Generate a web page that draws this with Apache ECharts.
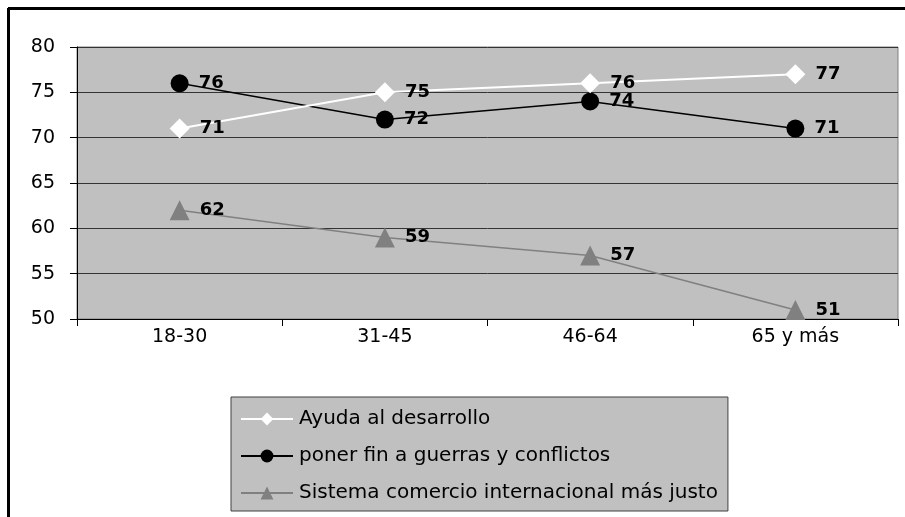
<!DOCTYPE html>
<html>
<head>
<meta charset="utf-8">
<script src="https://cdn.jsdelivr.net/npm/echarts@6/dist/echarts.min.js"></script>
<style>html,body{margin:0;padding:0;background:#fff;}#c{width:905px;height:517px;}</style>
</head>
<body>
<div id="c"></div>
<script>
var categories = ['18-30', '31-45', '46-64', '65 y más'];
var ayuda = [71, 75, 76, 77];
var ponerFin = [76, 72, 74, 71];
var sistema = [62, 59, 57, 51];
var seriesNames = ['Ayuda al desarrollo', 'poner fin a guerras y conflictos', 'Sistema comercio internacional más justo'];

var FONT = '"DejaVu Sans", sans-serif';
var labelStyle = {show: true, position: 'right', distance: 10, color: '#000', fontSize: 18, fontWeight: 'bold', fontFamily: FONT};

var chart = echarts.init(document.getElementById('c'));
chart.setOption({
  animation: false,
  backgroundColor: '#fff',
  textStyle: {fontFamily: FONT},
  grid: {left: 77, right: 7, top: 47, bottom: 198, show: true, backgroundColor: '#c0c0c0', borderColor: '#808080', borderWidth: 1},
  xAxis: {
    type: 'category', data: categories, boundaryGap: true,
    axisLine: {lineStyle: {color: '#000', width: 1}},
    axisTick: {show: true, length: 7, lineStyle: {color: '#000'}},
    axisLabel: {color: '#000', fontSize: 19, fontFamily: FONT, margin: 9},
    splitLine: {show: false}
  },
  yAxis: {
    type: 'value', min: 50, max: 80, interval: 5,
    axisLine: {show: true, lineStyle: {color: '#000', width: 1}},
    axisTick: {show: true, length: 7, lineStyle: {color: '#000'}},
    axisLabel: {color: '#000', fontSize: 19, fontFamily: FONT, margin: 22},
    splitLine: {show: true, lineStyle: {color: '#333', width: 1}}
  },
  legend: {
    orient: 'vertical', left: 231, top: 397,
    padding: [12, 10, 8, 9], itemGap: 17, itemWidth: 52, itemHeight: 16,
    backgroundColor: '#c0c0c0', borderColor: '#404040', borderWidth: 1,
    textStyle: {color: '#000', fontSize: 20, fontFamily: FONT, padding: [0, 0, 0, 1]},
    data: seriesNames
  },
  series: [
    {name: seriesNames[0], type: 'line', data: ayuda, symbol: 'diamond', symbolSize: 20,
      itemStyle: {color: '#fff'}, lineStyle: {color: '#fff', width: 2}, label: labelStyle, z: 3},
    {name: seriesNames[1], type: 'line', data: ponerFin, symbol: 'circle', symbolSize: 18,
      itemStyle: {color: '#000'}, lineStyle: {color: '#000', width: 1.5}, label: labelStyle, z: 2},
    {name: seriesNames[2], type: 'line', data: sistema, symbol: 'triangle', symbolSize: 20,
      itemStyle: {color: '#808080'}, lineStyle: {color: '#808080', width: 1.5}, label: labelStyle, z: 1}
  ],
  graphic: [
    {type: 'line', shape: {x1: 8, y1: 8.5, x2: 905, y2: 8.5}, style: {stroke: '#000', lineWidth: 3}},
    {type: 'line', shape: {x1: 8.5, y1: 8, x2: 8.5, y2: 517}, style: {stroke: '#000', lineWidth: 3}}
  ]
});
</script>
</body>
</html>
